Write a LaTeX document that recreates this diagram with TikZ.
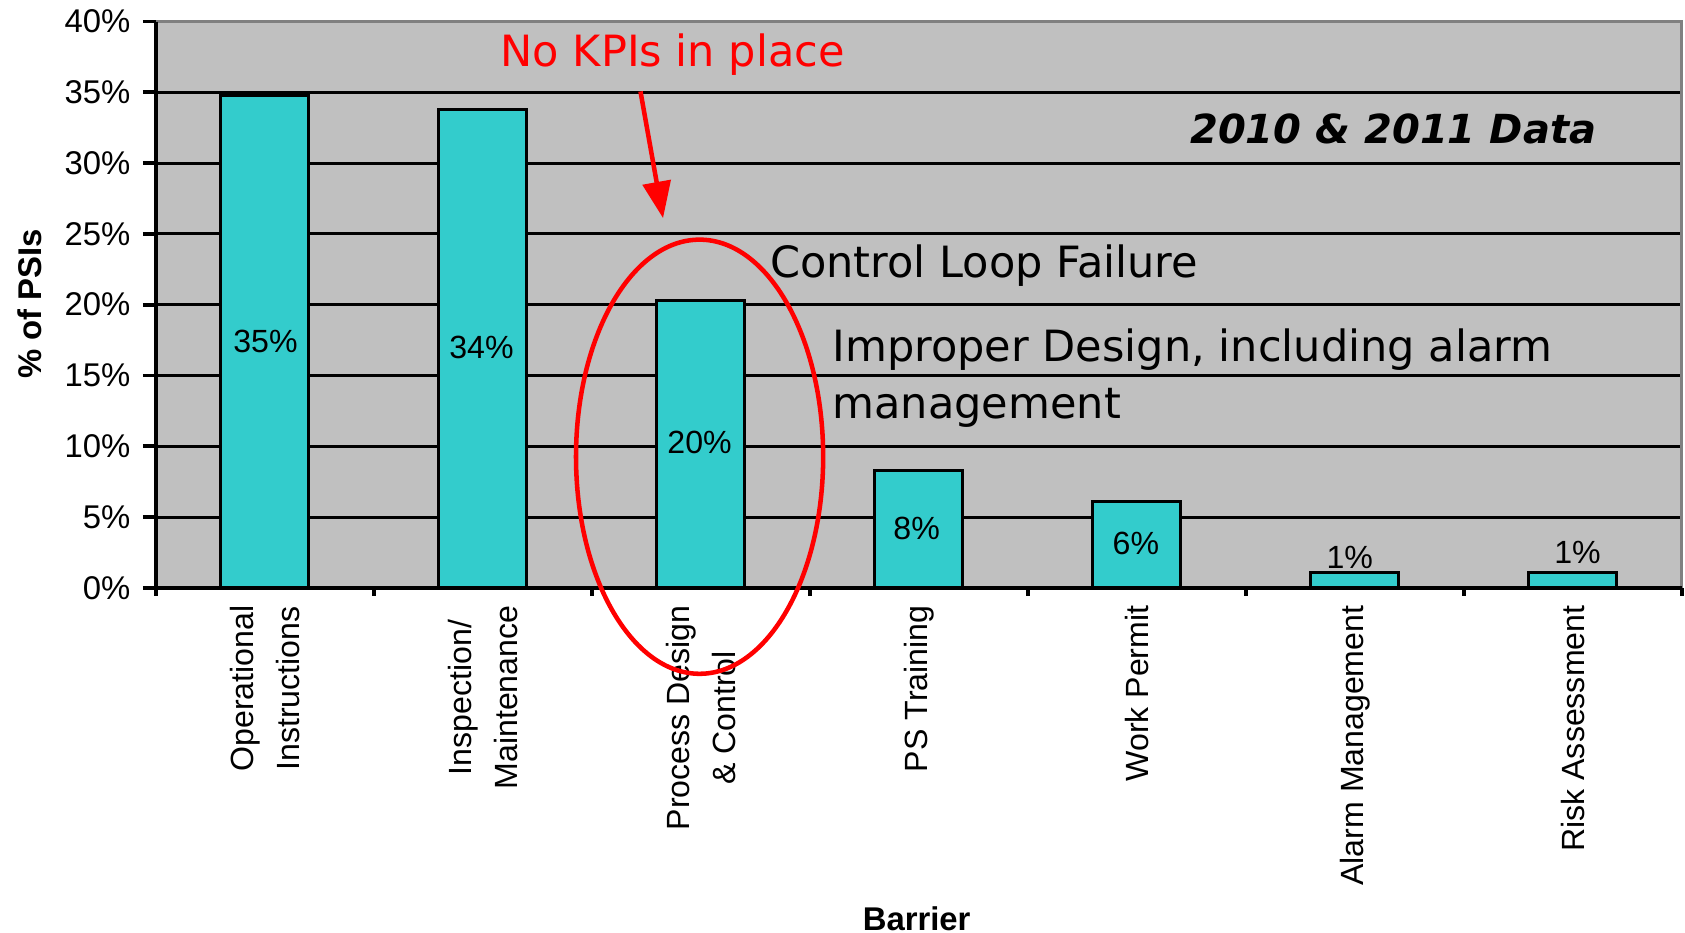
\documentclass[tikz,border=0pt]{standalone}
\usepackage{fontspec}
\setmainfont{Liberation Sans}
\newfontfamily\notefont{DejaVu Sans}
\usetikzlibrary{arrows.meta,shapes.geometric}
\definecolor{plotgray}{HTML}{C0C0C0}
\definecolor{barcyan}{HTML}{33CCCC}
\definecolor{framegray}{HTML}{808080}
\tikzset{%
  >={Triangle[width=2.6mm,length=3.4mm]},
  % Specifications for style of the chart parts:
     gridline/.style = {line width=0.8pt, black},
       barbox/.style = {draw=black, line width=0.8pt, fill=barcyan},
    ticklabel/.style = {anchor=east, inner sep=0pt, font=\fontsize{8.7}{10}\selectfont},
   valuelabel/.style = {font=\fontsize{8.5}{10}\selectfont},
     catlabel/.style = {rotate=90, anchor=east, align=center, inner sep=0pt,
                        font=\fontsize{8.5}{12.2}\selectfont},
    axistitle/.style = {font=\fontsize{8.7}{10}\bfseries},
         note/.style = {inner sep=0pt, font=\notefont\fontsize{11.4}{15.1}\selectfont},
      redmark/.style = {draw=red, line width=1.2pt},
}

\begin{document}
\begin{tikzpicture}
  \useasboundingbox (0,0) rectangle (15.68,8.68);
  % Plot area, bars and axes (x in categories, y in percent)
  \begin{scope}[shift={(1.45,3.21)}, x=2.0286cm, y=0.13175cm]
    \fill[plotgray] (0,0) rectangle (7,40);
    \foreach \p in {5,10,...,35}
      \draw[gridline] (0,\p) -- (7,\p);
    \draw[framegray, line width=0.8pt] (0,40) -- (7,40) -- (7,0);
    \foreach \h [count=\i] in {34.8,33.8,20.3,8.3,6.1,1.1,1.1}
      \draw[barbox] (\i-0.702,0) rectangle (\i-0.298,\h);
    \draw[line width=1pt] (0,40) -- (0,0) -- (7,0);
    \foreach \p in {0,5,...,40} {
      \draw[line width=1pt] (-0.059,\p) -- (0,\p);
      \node[ticklabel] (tick\p) at (-0.113,\p) {\p\%};
    }
    \foreach \i in {0,...,7}
      \draw[line width=1pt] (\i,0) -- (\i,-0.6);
    \foreach \t [count=\i] in {{Operational\\Instructions}, {Inspection/\\Maintenance},
        {Process Design\\\& Control}, {PS Training}, {Work Permit},
        {Alarm Management}, {Risk Assessment}}
      \node[catlabel] (cat\i) at (\i-0.5,-1.2) {\t};
  \end{scope}
  % Values on the bars
  \foreach \x/\y/\t [count=\i] in {2.47/5.50/35, 4.48/5.45/34, 6.51/4.56/20,
      8.53/3.76/8, 10.57/3.62/6, 12.56/3.49/1, 14.68/3.54/1}
    \node[valuelabel] (val\i) at (\x,\y) {\t\%};
  % Axis titles
  \node[axistitle] (xtitle) at (8.53,0.13) {Barrier};
  \node[axistitle, rotate=90] (ytitle) at (0.28,5.85) {\% of PSIs};
  % Notes
  \node[note, text=red] (kpi) at (6.26,8.17) {No KPIs in place};
  \coordinate (kpitip) at (6.17,6.65);
  \draw[->, red, line width=1.2pt] ([xshift=-0.3cm, yshift=-0.14cm]kpi.south) -- (kpitip);
  \node[redmark, ellipse, minimum width=2.3cm, minimum height=4.04cm] (ring) at (6.51,4.43) {};
  \node[note, anchor=west] (loop) at (7.16,6.21) {Control Loop Failure};
  \node[note, anchor=west, align=left] (design) at (7.74,5.165)
    {Improper Design, including alarm\\management};
  \node[note, anchor=east, font=\notefont\fontsize{10.6}{13}\selectfont\bfseries\itshape]
    (years) at (14.86,7.48) {2010 \& 2011 Data};
\end{tikzpicture}
\end{document}
